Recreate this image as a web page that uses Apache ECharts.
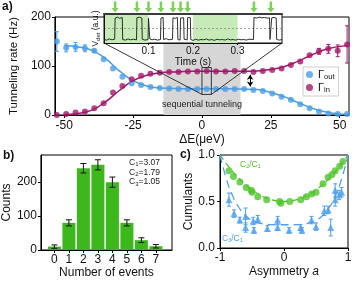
<!DOCTYPE html>
<html><head><meta charset="utf-8">
<script src="https://cdn.jsdelivr.net/npm/echarts@6/dist/echarts.min.js"></script>
<style>html,body{margin:0;padding:0;background:#fff}#c{width:355px;height:283px}</style>
</head><body><div id="c"></div>
<script>
// ---------- Panel a data ----------
const dE = [-52.7,-49.3,-45.9,-42.5,-39.1,-35.7,-32.3,-28.9,-25.5,-22.1,-18.7,-15.3,-11.9,-8.5,-5.1,-1.7,
            1.7,5.1,8.5,11.9,15.3,18.7,22.1,25.5,28.9,32.3,35.7,39.1,42.5,45.9,49.3,52.7];
const gammaOut = [150,137,139,136,131,114,95,78,65,61,57,55,54,53,53,53,
                  53,53,53,53,53,51,49,44,37,31,22,14,7,3,2,2];
const gammaOutErr = [20,8,9,7,3,0,0,0,0,0,0,0,0,0,0,0, 0,0,0,0,0,0,0,0,0,0,0,0,0,0,0,0];
const gammaIn = [0,2,5,7,14,24,46,59,73,80,84,86,88,88,89,89,
                 90,89,89,90,90,88,90,92,95,102,109,122,130,135,131,144];
const gammaInErr = [0,0,0,0,0,0,0,0,0,0,0,0,0,0,0,0, 0,0,0,0,0,0,0,0,0,0,0,0,6,9,12,38];
const fitX   = [-50,-45,-40,-35,-30,-25,-20,-15,-10,-5,0,5,10,15,20,25,30,35,40,45,50,53];
const fitOut = [142,139,132,115,90,70,59,55,54,53.5,53.5,53.5,53.5,53,52,46,37,25,14,6,2,1];
const fitIn  = [1,3,10,27,50,70,81,86,88,89,89.5,89.5,89.5,89.5,90,93,99,110,123,134,140,142];
const aTicks = [-50,-25,0,25,50];
const zoomRectX = [0,3.4];
const zoomRectY = [42,97];
const seqRange = [-14,14];
const gapArrow = {x:17.5, y:[58,82]};
// ---------- Inset data ----------
const traceT = [0,0.006,0.012,0.018,0.024,0.025,0.03,0.035,0.041,0.042,0.048,0.054,0.06,0.066,0.073,
  0.074,0.079,0.085,0.086,0.092,0.099,0.1,0.102,0.103,0.108,0.114,0.12,0.127,0.128,0.133,0.134,0.14,0.146,0.154,
  0.155,0.16,0.165,0.166,0.171,0.172,0.176,0.179,0.18,0.187,0.188,0.191,0.194,0.195,0.2,0.206,0.212,0.218,0.224,
  0.23,0.236,0.242,0.248,0.254,0.26,0.266,0.272,0.278,0.284,0.29,0.296,0.302,0.308,0.314,0.32,0.326,0.336,
  0.337,0.343,0.349,0.355,0.361,0.367,0.372,0.373,0.376,0.377,0.382,0.387,0.388,0.394,0.4];
const traceV = [0.12,0.10,0.14,0.11,0.13,0.86,0.89,0.85,0.88,0.12,0.10,0.14,0.11,0.13,0.11,
  0.87,0.89,0.86,0.13,0.10,0.12,0.85,0.85,0.14,0.11,0.13,0.10,0.12,0.86,0.88,0.12,0.15,0.11,0.13,
  0.87,0.85,0.88,0.12,0.10,0.86,0.89,0.87,0.13,0.11,0.88,0.85,0.87,0.12,0.09,0.13,0.10,0.12,0.11,
  0.14,0.10,0.12,0.09,0.13,0.11,0.12,0.10,0.14,0.11,0.12,0.10,0.13,0.11,0.12,0.10,0.13,0.12,
  0.88,0.86,0.89,0.87,0.88,0.86,0.87,0.12,0.12,0.87,0.88,0.86,0.12,0.10,0.12];
const arrowT = [0.025,0.074,0.1,0.128,0.155,0.172,0.188,0.337,0.375];
const greenWindows = [[0,0.1],[0.2,0.3]];
const insetTicks = [0.1,0.2,0.3];
// ---------- Panel b data ----------
const nEvents = [0,1,2,3,4,5,6,7];
const counts = [10,80,241,251,200,80,29,11];
const countsErr = [5,9,14,15,15,9,7,5];
const cumIdx = ['1','2','3'];
const cumVal = ['3.07','1.79','1.05'];
// ---------- Panel c data ----------
const asymX2 = [-0.86,-0.79,-0.69,-0.59,-0.51,-0.50,-0.41,-0.27,-0.07,-0.05,0.09,0.26,0.35,0.43,0.50,0.61,0.69,0.75,0.80,0.87,0.92];
const c2c1   = [0.83,0.77,0.71,0.65,0.62,0.60,0.55,0.52,0.50,0.48,0.50,0.52,0.55,0.58,0.60,0.69,0.76,0.79,0.83,0.88,0.93];
const asymX3 = [-0.86,-0.78,-0.69,-0.60,-0.60,-0.48,-0.47,-0.41,-0.26,-0.10,-0.10,0.08,0.26,0.28,0.43,0.50,0.63,0.69,0.73,0.80,0.80,0.86,0.90];
const c3c1   = [0.52,0.37,0.30,0.34,0.22,0.29,0.19,0.31,0.21,0.30,0.22,0.19,0.22,0.19,0.30,0.23,0.40,0.41,0.22,0.52,0.62,0.57,0.60];
const c3c1Err= [0.07,0.04,0.03,0.09,0.05,0.04,0.03,0.04,0.03,0.04,0.03,0.03,0.03,0.03,0.04,0.04,0.05,0.04,0.09,0.07,0.07,0.05,0.05];
const theoryA  = [-1,-0.9,-0.8,-0.7,-0.6,-0.5,-0.4,-0.3,-0.2,-0.1,0,0.1,0.2,0.3,0.4,0.5,0.6,0.7,0.8,0.9,1];
const theoryC2 = [1,0.905,0.82,0.745,0.68,0.625,0.58,0.545,0.52,0.505,0.5,0.505,0.52,0.545,0.58,0.625,0.68,0.745,0.82,0.905,1];
const theoryC3 = [1,0.742,0.557,0.43,0.347,0.297,0.269,0.256,0.251,0.25,0.25,0.25,0.251,0.256,0.269,0.297,0.347,0.43,0.557,0.742,1];

const BLUE='#4a9ee6', MAG='#a5176b', GREEN='#3cb81c', CGREEN='#4fc42a', CBLUE='#4d9ff0';
const FONT='Liberation Sans, Arial, sans-serif';

function errBars(color, cap, lw){
  return function(params, api){
    const x=api.value(0), y=api.value(1), e=api.value(2);
    if(!e) return null;
    const lo=api.coord([x,y-e]), hi=api.coord([x,y+e]);
    const st={stroke:color,lineWidth:lw||1};
    return {type:'group',children:[
      {type:'line',shape:{x1:lo[0],y1:lo[1],x2:hi[0],y2:hi[1]},style:st},
      {type:'line',shape:{x1:lo[0]-cap,y1:lo[1],x2:lo[0]+cap,y2:lo[1]},style:st},
      {type:'line',shape:{x1:hi[0]-cap,y1:hi[1],x2:hi[0]+cap,y2:hi[1]},style:st}
    ]};
  };
}
const zip2=(a,b)=>a.map((v,i)=>[v,b[i]]);
const zip3=(a,b,c)=>a.map((v,i)=>[v,b[i],c[i]]);

const axLine={onZero:false,lineStyle:{color:'#000',width:1}};
const lbl12={fontSize:12,color:'#111',fontFamily:FONT};

const chart=echarts.init(document.getElementById('c'),null,{renderer:'canvas'});
const option={
  animation:false,
  textStyle:{fontFamily:FONT},
  grid:[
    {left:39,top:17,width:310,height:98,show:true,borderColor:'#000',borderWidth:1,backgroundColor:'transparent'},
    {left:104,top:14,width:178,height:29,show:true,borderColor:'#111',borderWidth:1,backgroundColor:'#fff',z:5},
    {left:39,top:155,width:133,height:95,show:true,borderColor:'#000',borderWidth:1},
    {left:220,top:155,width:128,height:93,show:true,borderColor:'#000',borderWidth:1}
  ],
  xAxis:[
    {gridIndex:0,type:'value',min:-53.4,max:53.4,axisLine:axLine,splitLine:{show:false},
     axisTick:{customValues:aTicks,length:3,lineStyle:{color:'#000'}},
     axisLabel:Object.assign({customValues:aTicks,margin:5},lbl12),
     name:'ΔE(μeV)',nameLocation:'middle',nameGap:19,nameTextStyle:{fontSize:12,color:'#111'}},
    {gridIndex:1,type:'value',min:0,max:0.4,z:8,axisLine:{onZero:false,lineStyle:{color:'#111',width:1}},splitLine:{show:false},
     axisTick:{customValues:insetTicks,length:2,lineStyle:{color:'#111'}},
     axisLabel:{customValues:insetTicks,fontSize:10,color:'#111',margin:3},
     name:'Time (s)',nameLocation:'middle',nameGap:14,nameTextStyle:{fontSize:10,color:'#111'}},
    {gridIndex:1,type:'value',min:0,max:0.4,position:'top',z:8,axisLine:{onZero:false,lineStyle:{color:'#3a3a3a',width:2}},
     axisTick:{show:false},axisLabel:{show:false},splitLine:{show:false}},
    {gridIndex:2,type:'value',min:-0.93,max:8.11,axisLine:axLine,splitLine:{show:false},
     axisTick:{customValues:nEvents,length:3,lineStyle:{color:'#000'}},
     axisLabel:Object.assign({customValues:nEvents,margin:4},lbl12),
     name:'Number of events',nameLocation:'middle',nameGap:16,nameTextStyle:{fontSize:12,color:'#111'}},
    {gridIndex:3,type:'value',min:-1,max:1,interval:1,axisLine:axLine,splitLine:{show:false},
     axisTick:{length:3,lineStyle:{color:'#000'}},
     axisLabel:Object.assign({margin:4},lbl12),
     name:'{n|Asymmetry }{i|a}',nameLocation:'middle',nameGap:18,
     nameTextStyle:{rich:{n:{fontSize:12,color:'#111',fontFamily:FONT},i:{fontSize:12,color:'#111',fontStyle:'italic',fontFamily:FONT}}}}
  ],
  yAxis:[
    {gridIndex:0,type:'value',min:0,max:200,interval:100,axisLine:axLine,splitLine:{show:false},
     axisTick:{length:3,lineStyle:{color:'#000'}},axisLabel:Object.assign({margin:4},lbl12),
     name:'Tunneling rate (Hz)',nameLocation:'middle',nameGap:26,nameTextStyle:{fontSize:11.5,color:'#111'}},
    {gridIndex:1,type:'value',min:0,max:1,z:8,axisLine:{onZero:false,lineStyle:{color:'#111'}},axisTick:{show:false},
     axisLabel:{show:false},splitLine:{show:false},
     name:'{a|V}{s|det}{a| (a.u.)}',nameLocation:'middle',nameGap:3,
     nameTextStyle:{color:'#111',rich:{a:{fontSize:8.5,lineHeight:11,color:'#111'},s:{fontSize:6,verticalAlign:'bottom',color:'#111'}}}},
    {gridIndex:2,type:'value',min:0,max:280,axisLine:axLine,splitLine:{show:false},
     axisTick:{customValues:[0,100,200],length:3,lineStyle:{color:'#000'}},
     axisLabel:Object.assign({customValues:[0,100,200],margin:4},lbl12),
     name:'Counts',nameLocation:'middle',nameGap:26,nameTextStyle:{fontSize:12,color:'#111'}},
    {gridIndex:3,type:'value',min:0,max:1,interval:0.5,axisLine:axLine,splitLine:{show:false},
     axisTick:{length:3,lineStyle:{color:'#000'}},
     axisLabel:Object.assign({margin:5,formatter:v=>v.toFixed(1)},lbl12),
     name:'Cumulants',nameLocation:'middle',nameGap:25,nameTextStyle:{fontSize:12,color:'#111'}}
  ],
  legend:{
    left:303,top:67,orient:'vertical',itemWidth:7,itemHeight:7,itemGap:1,padding:[2,4,2,3],
    borderColor:'#cfcfcf',borderWidth:1,backgroundColor:'#fff',icon:'circle',
    data:['Γout','Γin'],
    formatter:n=>'{g|Γ}{s|'+n.slice(1)+'}',
    textStyle:{rich:{g:{fontSize:11,lineHeight:13,color:'#111'},s:{fontSize:7.5,verticalAlign:'bottom',color:'#111'}}}
  },
  series:[
    {type:'line',xAxisIndex:0,yAxisIndex:0,data:[],z:1,
     markArea:{silent:true,itemStyle:{color:'#d6d6d6'},
       label:{show:true,position:'insideBottom',distance:6,fontSize:9,color:'#222',formatter:'sequential tunneling'},
       data:[[{xAxis:seqRange[0],yAxis:0},{xAxis:seqRange[1],yAxis:200}]]}},
    {type:'line',xAxisIndex:0,yAxisIndex:0,data:[],z:4,
     markArea:{silent:true,z:4,itemStyle:{color:'rgba(0,0,0,0)',borderColor:'#333',borderWidth:1},
       data:[[{xAxis:zoomRectX[0],yAxis:zoomRectY[0]},{xAxis:zoomRectX[1],yAxis:zoomRectY[1]}]]},
     markLine:{silent:true,symbol:['arrow','arrow'],symbolSize:[5,5],label:{show:false},
       lineStyle:{color:'#000',type:'solid',width:1},
       data:[[{coord:[gapArrow.x,gapArrow.y[0]]},{coord:[gapArrow.x,gapArrow.y[1]]}]]}},
    {type:'line',xAxisIndex:0,yAxisIndex:0,data:zip2(fitX,fitOut),smooth:true,showSymbol:false,
     lineStyle:{color:BLUE,width:1.5},z:2,silent:true},
    {type:'line',xAxisIndex:0,yAxisIndex:0,data:zip2(fitX,fitIn),smooth:true,showSymbol:false,
     lineStyle:{color:MAG,width:1.5},z:2,silent:true},
    {type:'custom',xAxisIndex:0,yAxisIndex:0,data:zip3(dE,gammaOut,gammaOutErr),renderItem:errBars(BLUE,2,1),z:3},
    {type:'custom',xAxisIndex:0,yAxisIndex:0,data:zip3(dE,gammaIn,gammaInErr),renderItem:errBars(MAG,2,1),z:3},
    {name:'Γout',type:'scatter',xAxisIndex:0,yAxisIndex:0,data:zip2(dE,gammaOut),symbolSize:6,
     itemStyle:{color:BLUE},z:3},
    {name:'Γin',type:'scatter',xAxisIndex:0,yAxisIndex:0,data:zip2(dE,gammaIn),symbolSize:6,
     itemStyle:{color:MAG},z:3},
    // inset
    {type:'line',xAxisIndex:1,yAxisIndex:1,data:[[0,0]],showSymbol:false,lineStyle:{width:0},z:6,
     markArea:{silent:true,z:6,itemStyle:{color:'#c6ebb8'},
       data:greenWindows.map(w=>[{xAxis:w[0],yAxis:0},{xAxis:w[1],yAxis:1}])},
     markLine:{silent:true,z:6,symbol:'none',label:{show:false},lineStyle:{color:'#888',type:[2,2],width:0.8},
       data:[{yAxis:0.5}]}},
    {type:'line',xAxisIndex:1,yAxisIndex:1,data:zip2(traceT,traceV),showSymbol:false,
     lineStyle:{color:'#1a1a1a',width:0.9},z:7,silent:true},
    {type:'scatter',xAxisIndex:1,yAxisIndex:1,data:arrowT.map(t=>[t,1.24]),clip:false,
     symbol:'path://M3.2,0 L6.8,0 L6.8,7 L10,7 L5,12 L0,7 L3.2,7 Z',symbolSize:[7,11],
     itemStyle:{color:'#5cc62c'},z:7,silent:true},
    // panel b
    {type:'bar',xAxisIndex:3,yAxisIndex:2,data:zip2(nEvents,counts),barWidth:13,
     itemStyle:{color:GREEN},z:2},
    {type:'custom',xAxisIndex:3,yAxisIndex:2,data:zip3(nEvents,counts,countsErr),renderItem:errBars('#111',3,1),z:3},
    // panel c
    {type:'line',xAxisIndex:4,yAxisIndex:3,data:zip2(theoryA,theoryC2),smooth:true,showSymbol:false,
     lineStyle:{color:CGREEN,width:1.3,type:[6,4]},z:2,silent:true},
    {type:'line',xAxisIndex:4,yAxisIndex:3,data:zip2(theoryA,theoryC3),smooth:true,showSymbol:false,
     lineStyle:{color:CBLUE,width:1.3,type:[8,5]},z:2,silent:true},
    {type:'custom',xAxisIndex:4,yAxisIndex:3,data:zip3(asymX3,c3c1,c3c1Err),renderItem:errBars(CBLUE,2,1),z:3},
    {type:'scatter',xAxisIndex:4,yAxisIndex:3,data:zip2(asymX3,c3c1),symbol:'triangle',symbolSize:7,
     itemStyle:{color:CBLUE},z:3},
    {type:'scatter',xAxisIndex:4,yAxisIndex:3,data:zip2(asymX2,c2c1),symbolSize:7,
     itemStyle:{color:CGREEN},z:4}
  ],
  graphic:[
    {type:'text',id:'la',left:2,top:1,z:20,style:{text:'a)',fontSize:12,fontWeight:'bold',fill:'#111',fontFamily:FONT}},
    {type:'text',id:'lb',left:3,top:150,z:20,style:{text:'b)',fontSize:12,fontWeight:'bold',fill:'#111',fontFamily:FONT}},
    {type:'text',id:'lc',left:180,top:149,z:20,style:{text:'c)',fontSize:12,fontWeight:'bold',fill:'#111',fontFamily:FONT}},
    ...cumIdx.map((k,i)=>({type:'text',id:'cum'+i,left:129,top:158+i*9.7,z:20,
      style:{text:'{c|C}{s|'+k+'}{c|='+cumVal[i]+'}',fontFamily:FONT,
        rich:{c:{fontSize:8.5,lineHeight:10,fill:'#222',fontFamily:FONT},s:{fontSize:6,verticalAlign:'bottom',fill:'#222',fontFamily:FONT}}}})),
    {type:'text',id:'c21',left:240,top:160,z:20,style:{text:'{c|C}{s|2}{c|/C}{s|1}',
      rich:{c:{fontSize:8.5,lineHeight:10,fill:CGREEN,fontFamily:FONT},s:{fontSize:5.5,verticalAlign:'bottom',fill:CGREEN,fontFamily:FONT}}}},
    {type:'text',id:'c31',left:222,top:234,z:20,style:{text:'{c|C}{s|3}{c|/C}{s|1}',
      rich:{c:{fontSize:8.5,lineHeight:10,fill:CBLUE,fontFamily:FONT},s:{fontSize:5.5,verticalAlign:'bottom',fill:CBLUE,fontFamily:FONT}}}}
  ]
};
chart.setOption(option);
const pIL=chart.convertToPixel({xAxisIndex:1,yAxisIndex:1},[0,0]);
const pIR=chart.convertToPixel({xAxisIndex:1,yAxisIndex:1},[0.4,0]);
const pRL=chart.convertToPixel({xAxisIndex:0,yAxisIndex:0},[zoomRectX[0],zoomRectY[0]]);
const pRR=chart.convertToPixel({xAxisIndex:0,yAxisIndex:0},[zoomRectX[1],zoomRectY[0]]);
chart.setOption({graphic:[
  {type:'line',id:'zl',z:9,shape:{x1:pIL[0],y1:pIL[1],x2:pRL[0],y2:pRL[1]},style:{stroke:'#222',lineWidth:0.9}},
  {type:'line',id:'zr',z:9,shape:{x1:pIR[0],y1:pIR[1],x2:pRR[0],y2:pRR[1]},style:{stroke:'#222',lineWidth:0.9}}
]});
</script></body></html>
